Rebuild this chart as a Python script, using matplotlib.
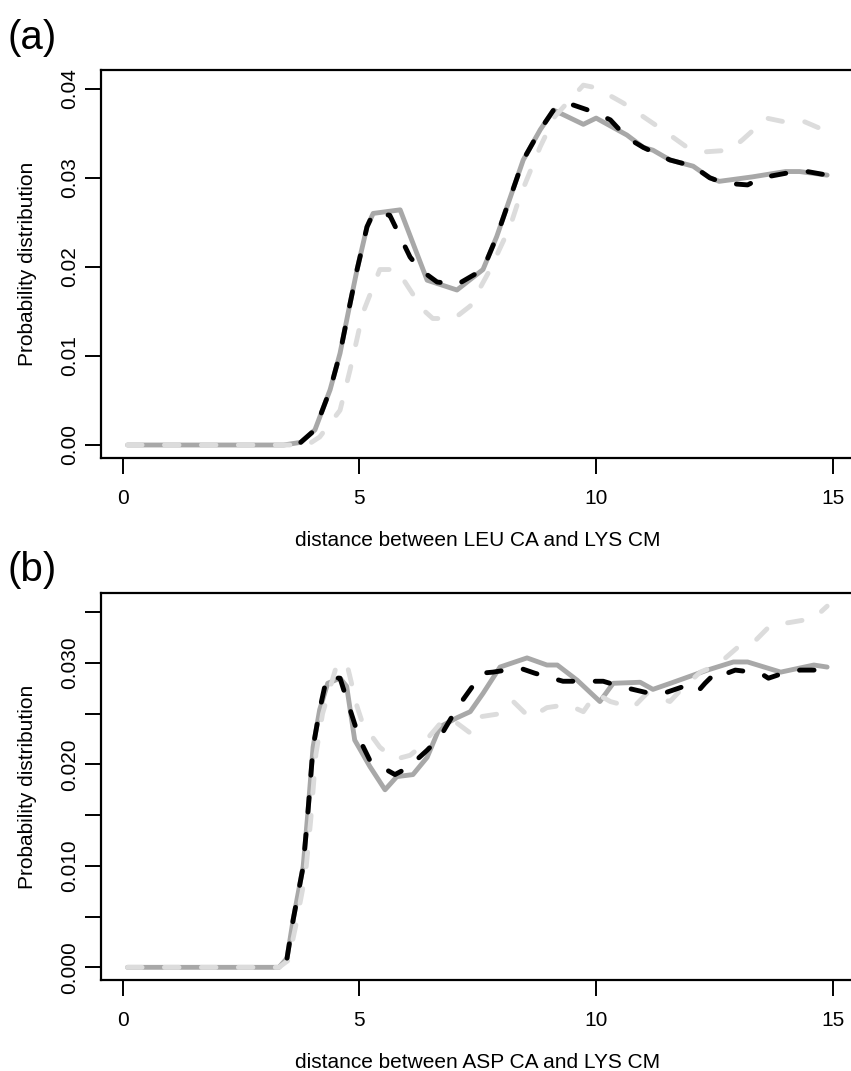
import numpy as np
import matplotlib
matplotlib.use("Agg")
import matplotlib.pyplot as plt

plt.rcParams.update({
    "font.family": ["Liberation Sans", "DejaVu Sans"], "font.size": 15,
})

GRAY = "#a8a8a8"
LIGHT = "#dcdcdc"

# ── panel (a): LEU CA - LYS CM ──────────────────────────────
a_solid_x = [0.1, 3.4, 3.76, 4.06, 4.38, 4.59, 4.76, 4.95, 5.16, 5.29, 5.86, 6.43, 7.06,
             7.61, 7.9, 8.46, 8.82, 9.1, 9.3, 9.73, 10.0, 10.65, 11.0, 11.2, 11.56,
             12.05, 12.4, 12.6, 13.3, 14.0, 14.3, 14.88]
a_solid_y = [0.0, 0.0, 0.0003, 0.0017, 0.0062, 0.0103, 0.0148, 0.0197, 0.0245, 0.026,
             0.0264, 0.0185, 0.0174, 0.0197, 0.0234, 0.032, 0.0354, 0.0376, 0.0371,
             0.036, 0.0367, 0.0348, 0.0334, 0.0331, 0.032, 0.0313, 0.030, 0.0296,
             0.0301, 0.0307, 0.0307, 0.0303]

a_black_x = [3.76, 4.06, 4.38, 4.59, 4.76, 4.95, 5.16, 5.29, 5.64, 6.07, 6.28, 6.64, 7.06,
             7.61, 7.9, 8.46, 8.82, 9.1, 9.39, 9.94, 10.3, 10.65, 11.0, 11.56, 12.05,
             12.4, 12.7, 13.2, 13.5, 14.0, 14.46, 14.88]
a_black_y = [0.0003, 0.0017, 0.0062, 0.0103, 0.0148, 0.0197, 0.0245, 0.026, 0.0258,
             0.0211, 0.0197, 0.0183, 0.018, 0.0197, 0.0234, 0.032, 0.0354, 0.0376,
             0.0384, 0.0374, 0.0365, 0.0345, 0.0334, 0.032, 0.0313, 0.030, 0.0294,
             0.0292, 0.030, 0.0305, 0.0307, 0.0303]

a_light_x = [0.1, 3.9, 4.16, 4.59, 4.8, 5.07, 5.43, 5.79, 6.34, 6.55, 7.0, 7.34, 7.76,
             8.18, 8.39, 8.82, 9.13, 9.73, 10.0, 10.57, 11.4, 11.9, 12.27, 12.83, 13.1,
             13.6, 13.96, 14.4, 14.88]
a_light_y = [0.0, 0.0, 0.0009, 0.0039, 0.0084, 0.0148, 0.0197, 0.0197, 0.0152, 0.0142,
             0.0142, 0.0156, 0.0197, 0.0245, 0.0279, 0.0335, 0.0369, 0.0404, 0.0401,
             0.0384, 0.0354, 0.0335, 0.0329, 0.0331, 0.0343, 0.0367, 0.0363, 0.0363,
             0.0352]

# ── panel (b): ASP CA - LYS CM ──────────────────────────────
b_solid_x = [0.1, 3.3, 3.47, 3.6, 3.81, 3.91, 4.02, 4.16, 4.33, 4.59, 4.73, 4.9, 5.22,
             5.54, 5.79, 6.13, 6.43, 6.7, 7.06, 7.34, 7.61, 7.97, 8.54, 8.96, 9.18, 9.6,
             10.08, 10.36, 10.93, 11.2, 11.63, 12.35, 12.9, 13.2, 13.9, 14.6, 14.88]
b_solid_y = [0.0, 0.0, 0.0009, 0.0047, 0.0099, 0.0152, 0.0217, 0.0254, 0.028, 0.0285,
             0.0277, 0.0224, 0.0198, 0.0175, 0.0188, 0.019, 0.0207, 0.0237, 0.0246,
             0.0252, 0.027, 0.0296, 0.0305, 0.0298, 0.0298, 0.0283, 0.0262, 0.028,
             0.0281, 0.0274, 0.0281, 0.0293, 0.0301, 0.0301, 0.0291, 0.0298, 0.0296]

b_black_x = [3.47, 3.6, 3.81, 3.91, 4.02, 4.16, 4.31, 4.59, 4.76, 5.01, 5.22, 5.75, 6.03,
             6.43, 6.7, 6.98, 7.19, 7.59, 7.82, 8.39, 8.7, 9.3, 9.6, 10.15, 10.5, 11.14,
             11.42, 11.92, 12.15, 12.3, 12.58, 12.77, 12.94, 13.47, 13.64, 13.83, 14.31,
             14.88]
b_black_y = [0.0009, 0.0047, 0.0099, 0.0152, 0.0217, 0.0254, 0.0286, 0.0285, 0.026,
             0.0224, 0.0204, 0.019, 0.0197, 0.0214, 0.0227, 0.0249, 0.0264, 0.029,
             0.0291, 0.0295, 0.029, 0.0282, 0.0282, 0.0282, 0.0277, 0.027, 0.027,
             0.0278, 0.0272, 0.028, 0.0293, 0.029, 0.0293, 0.029, 0.0285, 0.0288,
             0.0293, 0.0293]

b_light_x = [0.1, 3.3, 3.5, 3.65, 3.86, 3.97, 4.08, 4.22, 4.52, 4.73, 4.95, 5.07, 5.43,
             5.75, 6.07, 6.28, 6.7, 6.91, 7.34, 7.55, 7.97, 8.25, 8.6, 8.96, 9.39, 9.73,
             10.0, 10.3, 10.78, 11.07, 11.56, 11.78, 12.2, 12.56, 12.98, 13.32, 13.68,
             14.1, 14.6, 14.88]
b_light_y = [0.0, 0.0, 0.0007, 0.004, 0.0092, 0.0145, 0.021, 0.025, 0.0298, 0.030,
             0.0257, 0.024, 0.0217, 0.0205, 0.0209, 0.0217, 0.024, 0.0246, 0.0231,
             0.0247, 0.025, 0.0262, 0.0246, 0.0256, 0.0259, 0.0252, 0.027, 0.0262,
             0.0256, 0.027, 0.0262, 0.0273, 0.0291, 0.0298, 0.0315, 0.032, 0.0337,
             0.034, 0.0344, 0.0356]

W, H = 851, 1071
panels = [
    ("(a)", "distance between LEU CA and LYS CM",
     (a_solid_x, a_solid_y), (a_black_x, a_black_y), (a_light_x, a_light_y),
     np.arange(0, 0.0401, 0.01), ["0.00", "0.01", "0.02", "0.03", "0.04"],
     (-0.00146, 0.0421), (70, 458), (540, 38)),
    ("(b)", "distance between ASP CA and LYS CM",
     (b_solid_x, b_solid_y), (b_black_x, b_black_y), (b_light_x, b_light_y),
     np.arange(0, 0.0351, 0.005),
     ["0.000", "", "0.010", "", "0.020", "", "0.030", ""],
     (-0.00125, 0.0369), (593, 980), (1062, 570)),
]

fig = plt.figure(figsize=(W / 100, H / 100), dpi=100)

for tag, xlabel, solid, black, light, yt, ytl, ylim, (ptop, pbot), (xl_y, tag_y) in panels:
    ax = fig.add_axes([101 / W, 1 - pbot / H, 755 / W, (pbot - ptop) / H])
    ax.plot(*solid, color=GRAY, lw=3.5, solid_capstyle="round", solid_joinstyle="round")
    ax.plot(*light, color=LIGHT, lw=3.5, dashes=(3.0, 4.6), dash_capstyle="round")
    ax.plot(*black, color="black", lw=3.5, dashes=(3.0, 4.6), dash_capstyle="round")
    ax.set_xlim(-0.46, 15.49)
    ax.set_ylim(*ylim)
    ax.set_xticks([0, 5, 10, 15])
    ax.set_yticks(yt)
    ax.set_yticklabels(ytl, rotation=90, va="center")
    ax.tick_params(direction="out", length=11.5, width=1.4, labelsize=15)
    ax.tick_params(axis="x", pad=11)
    ax.tick_params(axis="y", pad=4)
    for s in ax.spines.values():
        s.set_linewidth(1.6)
    fig.text(478 / W, 1 - xl_y / H, xlabel, fontsize=15, ha="center", va="center")
    fig.text(28 / W, 1 - (ptop + pbot) / 2 / H, "Probability distribution",
             fontsize=15, rotation=90, ha="center", va="center")
    fig.text(8 / W, 1 - tag_y / H, tag, fontsize=29, ha="left", va="center")

fig.savefig("out.png", dpi=100)
